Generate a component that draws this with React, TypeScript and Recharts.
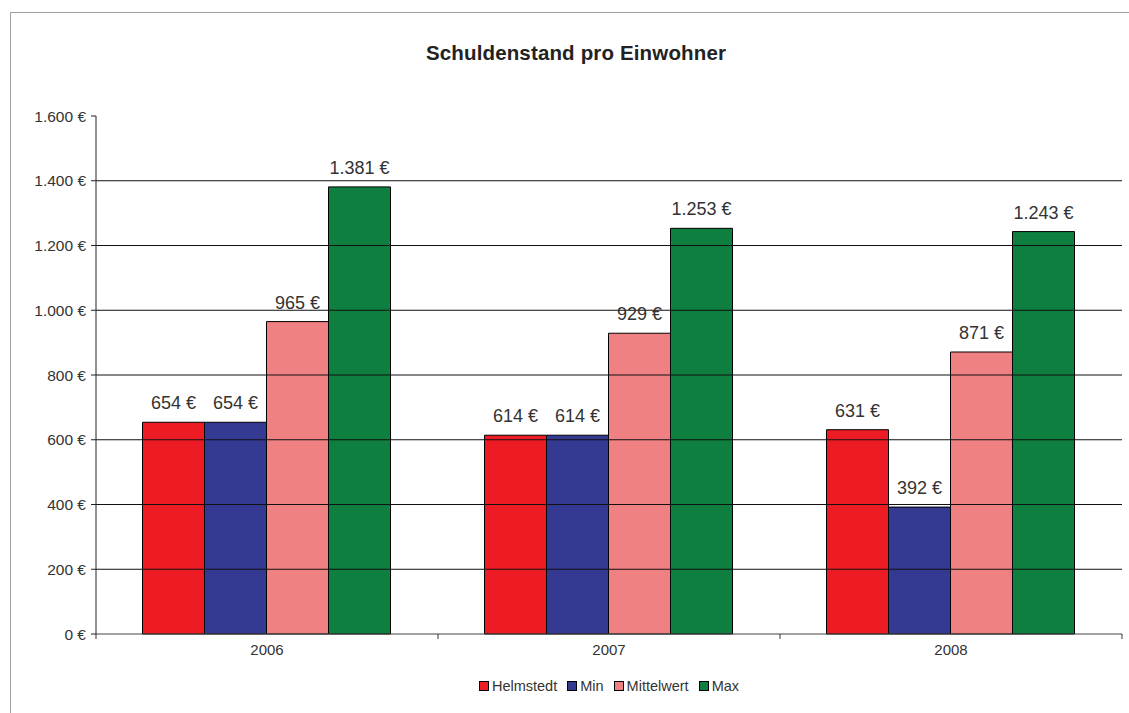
import React from 'react';
import { BarChart, Bar, XAxis, YAxis, ReferenceLine, Legend, LabelList } from 'recharts';

const years = ['2006', '2007', '2008'];
const helmstedt = [654, 614, 631];
const minValues = [654, 614, 392];
const mittelwert = [965, 929, 871];
const maxValues = [1381, 1253, 1243];
const yTicks = [0, 200, 400, 600, 800, 1000, 1200, 1400, 1600];
const gridValues = [200, 400, 600, 800, 1000, 1200, 1400];

const series = [
  { key: 'Helmstedt', color: '#ED1C24', values: helmstedt },
  { key: 'Min', color: '#343992', values: minValues },
  { key: 'Mittelwert', color: '#F08182', values: mittelwert },
  { key: 'Max', color: '#0E7F3E', values: maxValues },
];

const data = years.map((year, i) => {
  const row: Record<string, string | number> = { year };
  series.forEach(s => {
    row[s.key] = s.values[i];
  });
  return row;
});

const WIDTH = 1129;
const HEIGHT = 713;
const MARGIN = { top: 116, right: 7, left: 11, bottom: 34 };
const Y_AXIS_WIDTH = 85;
const FONT = '"Liberation Sans", Arial, sans-serif';
const BAND = (WIDTH - MARGIN.left - MARGIN.right - Y_AXIS_WIDTH) / years.length;

// German number format: 1.381 €
const formatEuro = (v: number) => String(v).replace(/\B(?=(\d{3})+(?!\d))/g, '.') + ' €';

const XTick = (props: any) => {
  const { x, y, payload, index } = props;
  return (
    <g>
      <line x1={x - BAND / 2} y1={y} x2={x - BAND / 2} y2={y + 5} stroke="#333" />
      {index === years.length - 1 && (
        <line x1={x + BAND / 2} y1={y} x2={x + BAND / 2} y2={y + 5} stroke="#333" />
      )}
      <text
        x={x}
        y={y + 15}
        textAnchor="middle"
        dominantBaseline="central"
        fontSize={15}
        fontFamily={FONT}
        fill="#333"
      >
        {payload.value}
      </text>
    </g>
  );
};

const LegendContent = () => (
  <div
    style={{
      display: 'flex',
      justifyContent: 'center',
      alignItems: 'center',
      height: 20,
      fontFamily: FONT,
      fontSize: 14.5,
      color: '#333',
    }}
  >
    {series.map((s, i) => (
      <div
        key={s.key}
        style={{ display: 'flex', alignItems: 'center', marginRight: i < series.length - 1 ? 10 : 0 }}
      >
        <span
          style={{
            display: 'inline-block',
            width: 8,
            height: 8,
            background: s.color,
            border: '1px solid #000',
            marginRight: 3,
          }}
        />
        <span>{s.key}</span>
      </div>
    ))}
  </div>
);

export default function App() {
  return (
    <div
      style={{
        position: 'absolute',
        left: 0,
        top: 0,
        width: WIDTH,
        height: HEIGHT,
        background: '#fff',
        overflow: 'hidden',
      }}
    >
      <div
        style={{
          position: 'absolute',
          left: 10,
          top: 12,
          width: WIDTH,
          height: HEIGHT,
          borderLeft: '1px solid #A0A0A0',
          borderTop: '1px solid #A0A0A0',
        }}
      />
      <div
        style={{
          position: 'absolute',
          left: 376,
          width: 400,
          top: 41,
          textAlign: 'center',
          fontFamily: FONT,
          fontWeight: 'bold',
          fontSize: 20.5,
          letterSpacing: 0.15,
          color: '#222',
        }}
      >
        Schuldenstand pro Einwohner
      </div>
      <div style={{ position: 'absolute', left: 0, top: 0 }}>
        <BarChart
          width={WIDTH}
          height={HEIGHT}
          data={data}
          margin={MARGIN}
          barCategoryGap="13.6%"
          barGap={0}
        >
          <XAxis
            dataKey="year"
            height={25}
            tickSize={0}
            tickMargin={0}
            tickLine={false}
            axisLine={{ stroke: '#444' }}
            tick={<XTick />}
          />
          <YAxis
            width={Y_AXIS_WIDTH}
            domain={[0, 1600]}
            ticks={yTicks}
            tickSize={5}
            tickMargin={5}
            tickFormatter={formatEuro}
            axisLine={{ stroke: '#222' }}
            tickLine={{ stroke: '#222' }}
            tick={{ fontSize: 15.5, fontFamily: FONT, fill: '#333' }}
          />
          {gridValues.map(v => (
            <ReferenceLine key={v} y={v} stroke="#111" />
          ))}
          <Legend
            content={<LegendContent />}
            verticalAlign="bottom"
            wrapperStyle={{ left: 96, width: 1026, bottom: 17 }}
          />
          {series.map(s => (
            <Bar
              key={s.key}
              dataKey={s.key}
              fill={s.color}
              stroke="#000"
              strokeWidth={1}
              isAnimationActive={false}
            >
              <LabelList
                dataKey={s.key}
                position="top"
                offset={13}
                formatter={(v: any) => formatEuro(Number(v))}
                style={{ fontSize: 18, fontFamily: FONT, fill: '#333' }}
              />
            </Bar>
          ))}
        </BarChart>
      </div>
    </div>
  );
}
